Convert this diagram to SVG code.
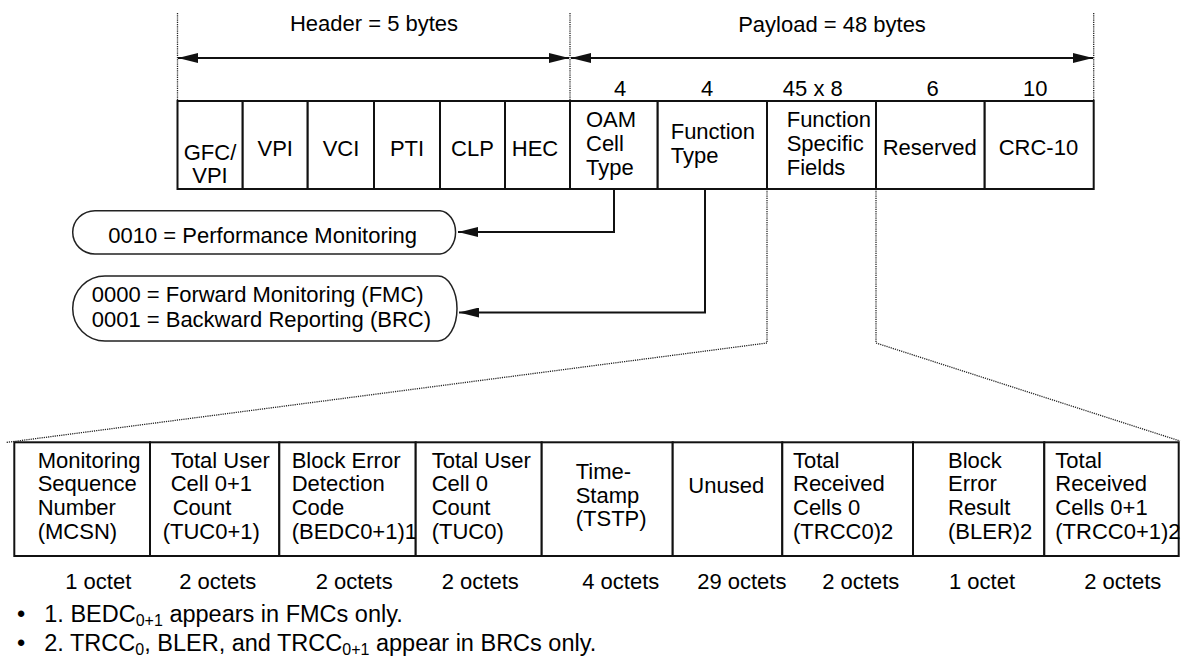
<svg xmlns="http://www.w3.org/2000/svg" width="1182" height="657" viewBox="0 0 1182 657">
<style>
  text { font-family: "Liberation Sans", Arial, Helvetica, sans-serif; font-size: 22px; fill: #000; }
  .mid { text-anchor: middle; }
  .box { fill: #fff; stroke: #111; stroke-width: 2; }
  .dot { fill: none; stroke: #222; stroke-width: 1.3; stroke-dasharray: 1.2 1; }
  .conn { fill: none; stroke: #111; stroke-width: 2; }
  .callout { fill: #fff; stroke: #222; stroke-width: 1.5; }
  .fn { font-size: 23.5px; }
  .sub { font-size: 16px; }
</style>
<defs>
  <marker id="ah" markerUnits="userSpaceOnUse" markerWidth="20" markerHeight="10" refX="20" refY="5" orient="auto-start-reverse" viewBox="0 0 20 10">
    <path d="M0,0 L20,5 L0,10 Z" fill="#111"/>
  </marker>
</defs>
<rect width="1182" height="657" fill="#fff"/>

<g id="connectors">
  <path class="dot" d="M177.5,13 V101"/>
  <path class="dot" d="M570,13 V101"/>
  <path class="dot" d="M1093.7,13 V101"/>
  <path class="conn" d="M178,58 H569" marker-start="url(#ah)" marker-end="url(#ah)"/>
  <path class="conn" d="M571,58 H1093" marker-start="url(#ah)" marker-end="url(#ah)"/>
  <path class="conn" d="M614,189 V232 H458" marker-end="url(#ah)"/>
  <path class="conn" d="M705,189 V312.5 H459" marker-end="url(#ah)"/>
  <path class="dot" d="M767,189 V343 L6,442.5"/>
  <path class="dot" d="M876,189 V343 L1180,441"/>
</g>

<g id="header-label"><text class="mid" x="374" y="31">Header = 5 bytes</text></g>
<g id="payload-label"><text class="mid" x="832" y="31.5">Payload = 48 bytes</text></g>

<g id="bit-widths">
  <text class="mid" x="620" y="96">4</text>
  <text class="mid" x="707" y="96">4</text>
  <text class="mid" x="812.8" y="96">45 x 8</text>
  <text class="mid" x="932.7" y="96">6</text>
  <text class="mid" x="1035.3" y="96">10</text>
</g>

<g id="cell-gfc"><rect class="box" x="177.5" y="101" width="65.2" height="88"/><text class="mid" x="210" y="160">GFC/<tspan x="210" dy="23">VPI</tspan></text></g>
<g id="cell-vpi"><rect class="box" x="242.7" y="101" width="65" height="88"/><text class="mid" x="275.2" y="156">VPI</text></g>
<g id="cell-vci"><rect class="box" x="307.7" y="101" width="66.3" height="88"/><text class="mid" x="341" y="156">VCI</text></g>
<g id="cell-pti"><rect class="box" x="374" y="101" width="66" height="88"/><text class="mid" x="407" y="156">PTI</text></g>
<g id="cell-clp"><rect class="box" x="440" y="101" width="65" height="88"/><text class="mid" x="472.5" y="156">CLP</text></g>
<g id="cell-hec"><rect class="box" x="505" y="101" width="65" height="88"/><text class="mid" x="535" y="156">HEC</text></g>
<g id="cell-oam"><rect class="box" x="570" y="101" width="87.7" height="88"/><text x="586" y="126.7">OAM<tspan x="586" dy="24">Cell</tspan><tspan x="586" dy="24">Type</tspan></text></g>
<g id="cell-function-type"><rect class="box" x="657.7" y="101" width="109.3" height="88"/><text x="670.7" y="138.5">Function<tspan x="670.7" dy="24">Type</tspan></text></g>
<g id="cell-fsf"><rect class="box" x="767" y="101" width="109" height="88"/><text x="786.7" y="126.5">Function<tspan x="786.7" dy="24">Specific</tspan><tspan x="786.7" dy="24">Fields</tspan></text></g>
<g id="cell-reserved"><rect class="box" x="876" y="101" width="108.7" height="88"/><text x="882.7" y="155">Reserved</text></g>
<g id="cell-crc"><rect class="box" x="984.7" y="101" width="109" height="88"/><text x="998.7" y="155">CRC-10</text></g>

<g id="callout-pm">
  <path class="callout" d="M95,210.7 H440 A16.7,21.7 0 0 1 440,254 H95 A22.3,21.65 0 0 1 95,210.7 Z"/>
  <text x="108.3" y="242.5">0010 = Performance Monitoring</text>
</g>
<g id="callout-fmc-brc">
  <path class="callout" d="M105,276 H438 A19,32.5 0 0 1 438,341 H105 A32.3,32.5 0 0 1 105,276 Z"/>
  <text x="91.7" y="301.7">0000 = Forward Monitoring (FMC)<tspan x="91.7" dy="25">0001 = Backward Reporting (BRC)</tspan></text>
</g>

<g id="f-mcsn"><rect class="box" x="14.3" y="442.3" width="135.7" height="113.7"/><text x="37.7" y="467.5">Monitoring<tspan x="37.7" dy="23.7">Sequence</tspan><tspan x="37.7" dy="23.7">Number</tspan><tspan x="37.7" dy="23.7">(MCSN)</tspan></text></g>
<g id="f-tuc01"><rect class="box" x="150" y="442.3" width="129.3" height="113.7"/><text x="170.7" y="467.5">Total User<tspan x="170.7" dy="23.7">Cell 0+1</tspan><tspan x="172.7" dy="23.7">Count</tspan><tspan x="162.7" dy="23.7">(TUC0+1)</tspan></text></g>
<g id="f-bedc"><rect class="box" x="279.3" y="442.3" width="136.4" height="113.7"/><text x="291.7" y="467.5">Block Error<tspan x="291.7" dy="23.7">Detection</tspan><tspan x="291.7" dy="23.7">Code</tspan><tspan x="291.7" dy="23.7">(BEDC0+1)1</tspan></text></g>
<g id="f-tuc0"><rect class="box" x="415.7" y="442.3" width="126" height="113.7"/><text x="431.7" y="467.5">Total User<tspan x="431.7" dy="23.7">Cell 0</tspan><tspan x="431.7" dy="23.7">Count</tspan><tspan x="431.7" dy="23.7">(TUC0)</tspan></text></g>
<g id="f-tstp"><rect class="box" x="541.7" y="442.3" width="131" height="113.7"/><text x="575.7" y="479.3">Time-<tspan x="575.7" dy="23.4">Stamp</tspan><tspan x="575.7" dy="23.4">(TSTP)</tspan></text></g>
<g id="f-unused"><rect class="box" x="672.7" y="442.3" width="109.6" height="113.7"/><text x="688.3" y="493.3">Unused</text></g>
<g id="f-trcc0"><rect class="box" x="782.3" y="442.3" width="130.7" height="113.7"/><text x="793" y="467.5">Total<tspan x="793" dy="23.7">Received</tspan><tspan x="793" dy="23.7">Cells 0</tspan><tspan x="793" dy="23.7">(TRCC0)2</tspan></text></g>
<g id="f-bler"><rect class="box" x="913" y="442.3" width="131.3" height="113.7"/><text x="948" y="467.5">Block<tspan x="948" dy="23.7">Error</tspan><tspan x="948" dy="23.7">Result</tspan><tspan x="948" dy="23.7">(BLER)2</tspan></text></g>
<g id="f-trcc01"><rect class="box" x="1044.3" y="442.3" width="134.4" height="113.7"/><text x="1055.3" y="467.5">Total<tspan x="1055.3" dy="23.7">Received</tspan><tspan x="1055.3" dy="23.7">Cells 0+1</tspan><tspan x="1055.3" dy="23.7">(TRCC0+1)2</tspan></text></g>

<g id="octets">
  <text class="mid" x="98.3" y="589">1 octet</text>
  <text class="mid" x="217.8" y="589">2 octets</text>
  <text class="mid" x="354.2" y="589">2 octets</text>
  <text class="mid" x="480.3" y="589">2 octets</text>
  <text class="mid" x="620.8" y="589">4 octets</text>
  <text class="mid" x="741.8" y="589">29 octets</text>
  <text class="mid" x="860.8" y="589">2 octets</text>
  <text class="mid" x="982" y="589">1 octet</text>
  <text class="mid" x="1122.8" y="589">2 octets</text>
</g>

<g id="footnotes">
  <text class="fn" x="17" y="621.5">•</text>
  <text class="fn" x="44.3" y="621.5">1. BEDC<tspan class="sub" dy="4">0+1</tspan><tspan dy="-4"> appears in FMCs only.</tspan></text>
  <text class="fn" x="17" y="651">•</text>
  <text class="fn" x="44.3" y="651">2. TRCC<tspan class="sub" dy="4">0</tspan><tspan dy="-4">, BLER, and TRCC</tspan><tspan class="sub" dy="4">0+1</tspan><tspan dy="-4"> appear in BRCs only.</tspan></text>
</g>
</svg>
